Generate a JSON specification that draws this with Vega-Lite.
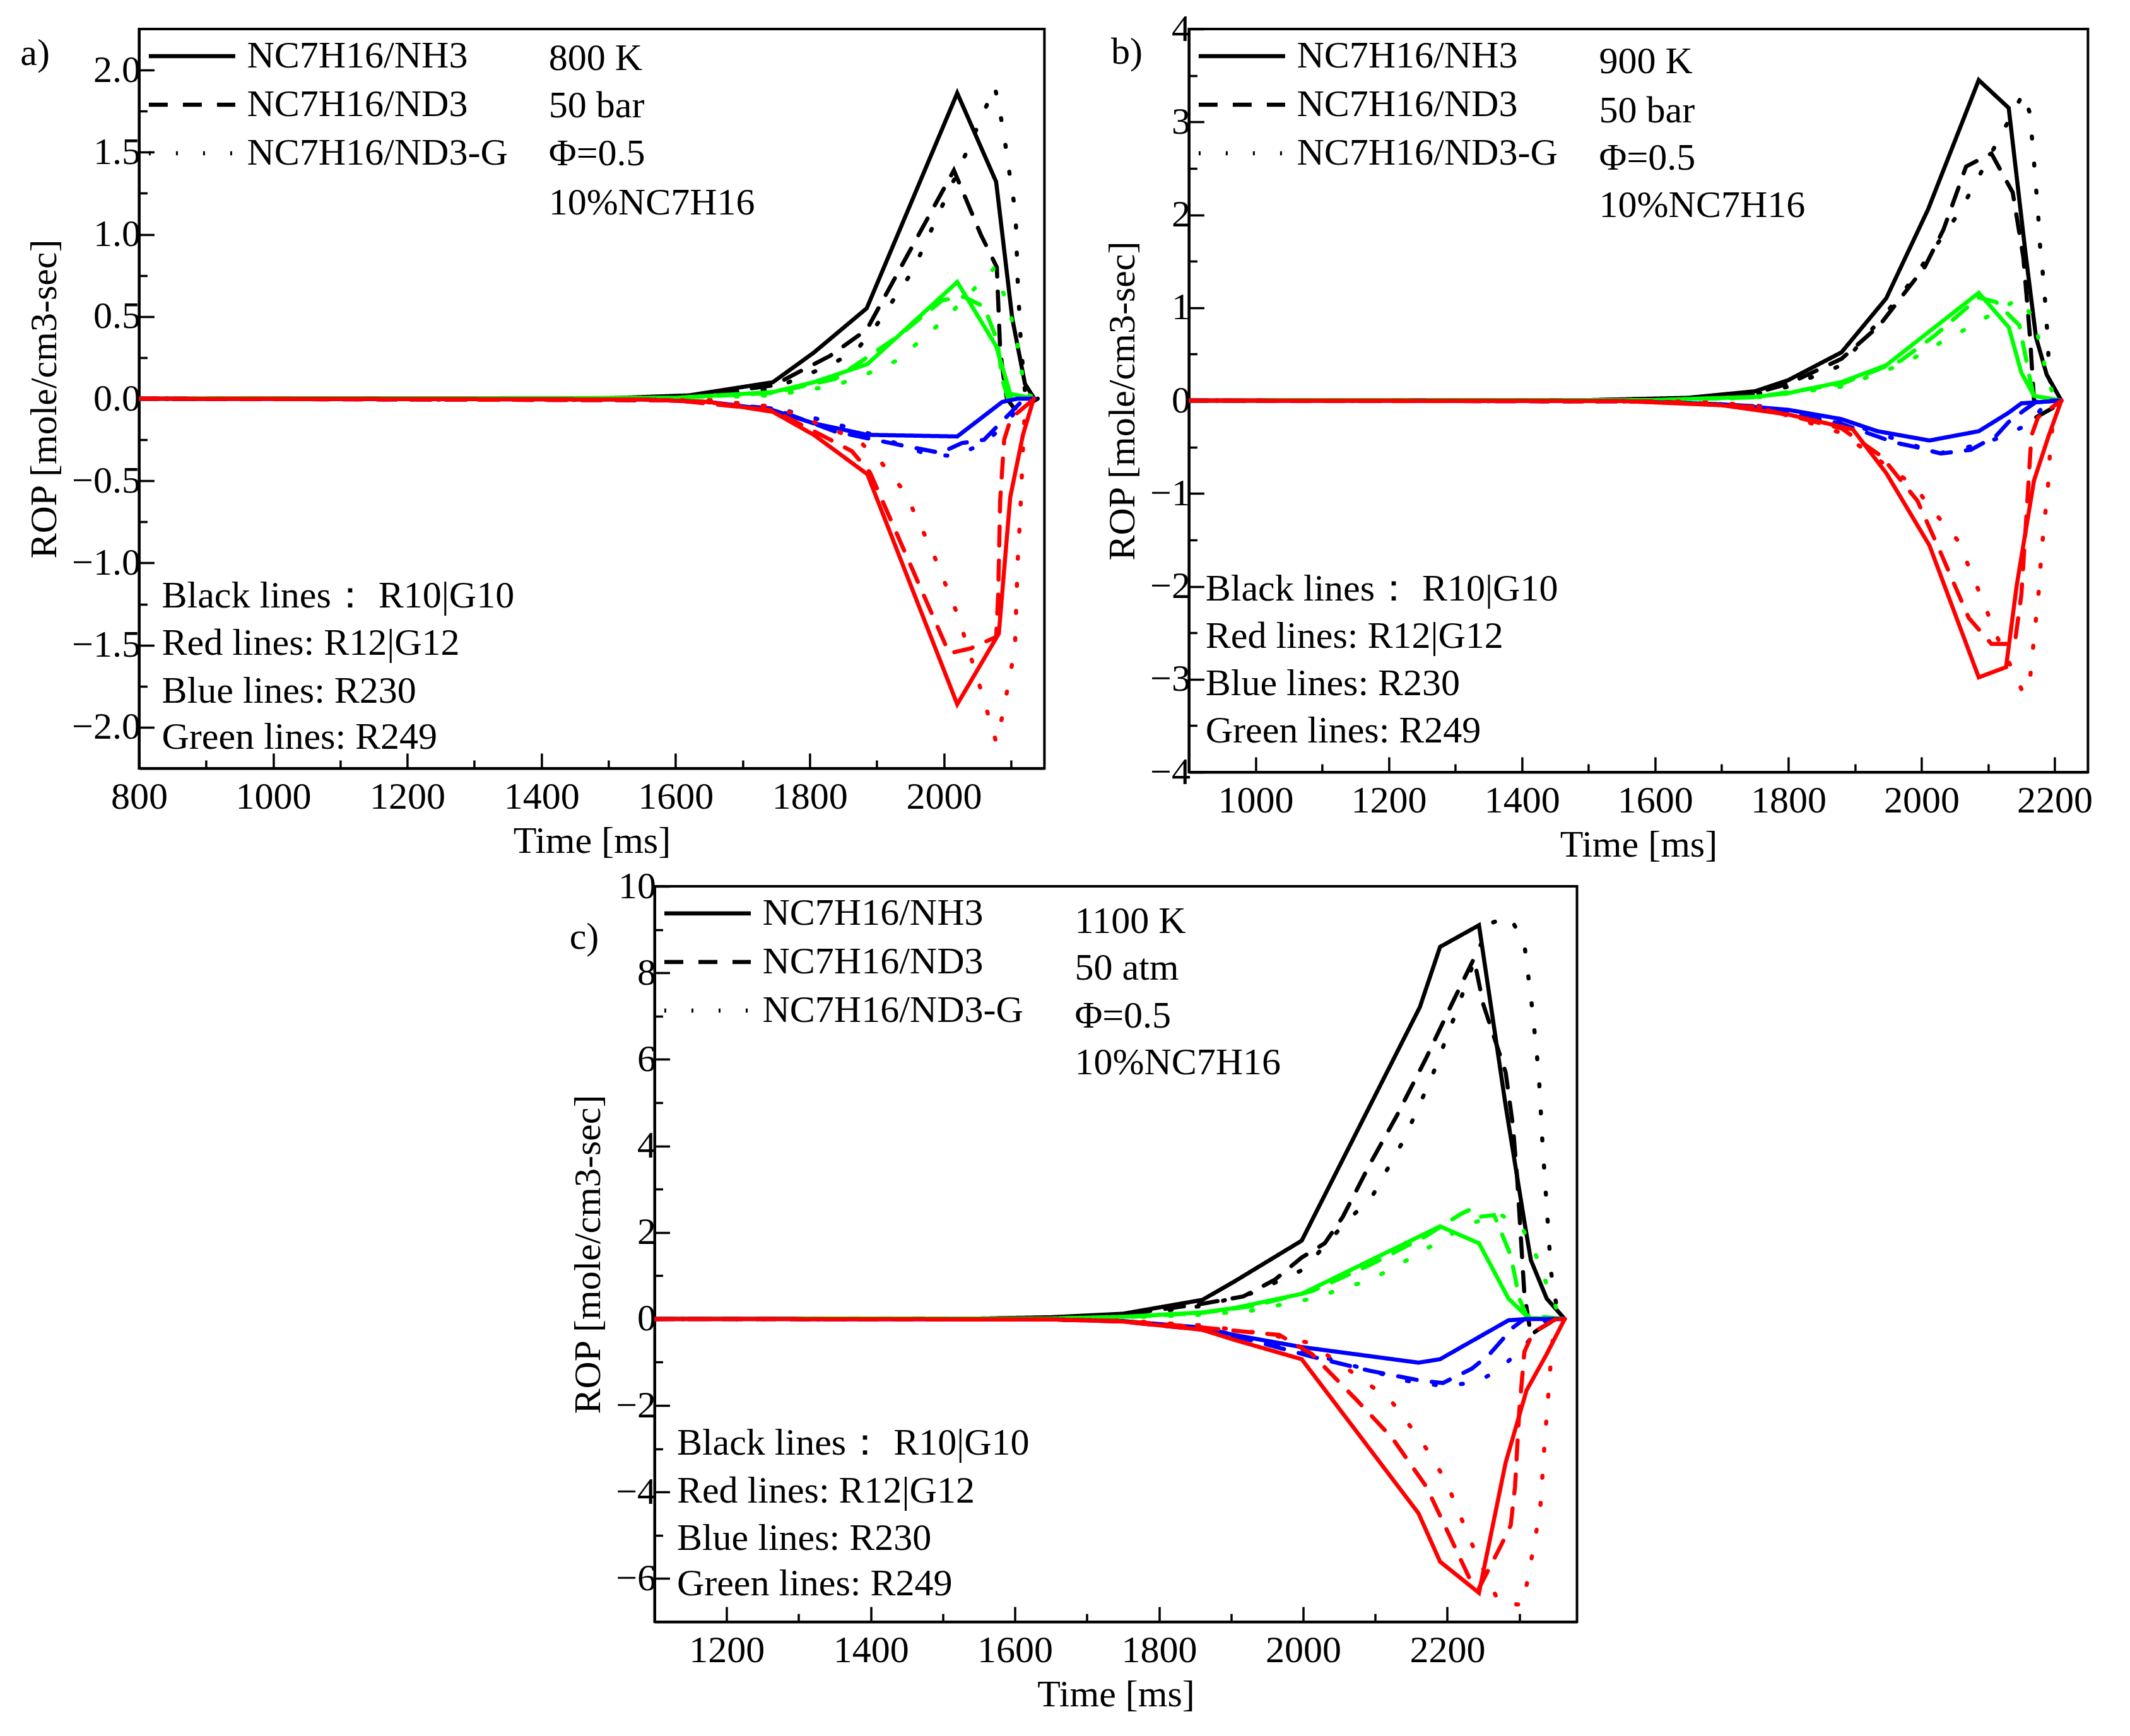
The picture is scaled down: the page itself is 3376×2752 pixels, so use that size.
{
  "$schema": "https://vega.github.io/schema/vega-lite/v6.json",
  "background": "white",
  "padding": {"left": 30, "top": 14, "right": 5, "bottom": 2},
  "datasets": {
    "lines": [
      {"p":"a","c":"black","s":"NC7H16/NH3","t":800,"v":0},{"p":"a","c":"black","s":"NC7H16/NH3","t":1500,"v":0.003},{"p":"a","c":"black","s":"NC7H16/NH3","t":1620,"v":0.02},{"p":"a","c":"black","s":"NC7H16/NH3","t":1745,"v":0.1},{"p":"a","c":"black","s":"NC7H16/NH3","t":1806,"v":0.28},{"p":"a","c":"black","s":"NC7H16/NH3","t":1885,"v":0.55},{"p":"a","c":"black","s":"NC7H16/NH3","t":2020,"v":1.86},{"p":"a","c":"black","s":"NC7H16/NH3","t":2078,"v":1.32},{"p":"a","c":"black","s":"NC7H16/NH3","t":2102,"v":0.49},{"p":"a","c":"black","s":"NC7H16/NH3","t":2121,"v":0.09},{"p":"a","c":"black","s":"NC7H16/NH3","t":2135,"v":0},
      {"p":"a","c":"black","s":"NC7H16/ND3","t":800,"v":0},{"p":"a","c":"black","s":"NC7H16/ND3","t":1500,"v":0.002},{"p":"a","c":"black","s":"NC7H16/ND3","t":1620,"v":0.015},{"p":"a","c":"black","s":"NC7H16/ND3","t":1745,"v":0.08},{"p":"a","c":"black","s":"NC7H16/ND3","t":1830,"v":0.26},{"p":"a","c":"black","s":"NC7H16/ND3","t":1885,"v":0.42},{"p":"a","c":"black","s":"NC7H16/ND3","t":2015,"v":1.39},{"p":"a","c":"black","s":"NC7H16/ND3","t":2055,"v":1.0},{"p":"a","c":"black","s":"NC7H16/ND3","t":2079,"v":0.8},{"p":"a","c":"black","s":"NC7H16/ND3","t":2084,"v":0.3},{"p":"a","c":"black","s":"NC7H16/ND3","t":2090,"v":0.1},{"p":"a","c":"black","s":"NC7H16/ND3","t":2094,"v":0},{"p":"a","c":"black","s":"NC7H16/ND3","t":2105,"v":-0.06},{"p":"a","c":"black","s":"NC7H16/ND3","t":2124,"v":-0.04},{"p":"a","c":"black","s":"NC7H16/ND3","t":2140,"v":0},
      {"p":"a","c":"black","s":"NC7H16/ND3-G","t":800,"v":0},{"p":"a","c":"black","s":"NC7H16/ND3-G","t":1500,"v":0.002},{"p":"a","c":"black","s":"NC7H16/ND3-G","t":1620,"v":0.01},{"p":"a","c":"black","s":"NC7H16/ND3-G","t":1745,"v":0.06},{"p":"a","c":"black","s":"NC7H16/ND3-G","t":1828,"v":0.2},{"p":"a","c":"black","s":"NC7H16/ND3-G","t":1869,"v":0.29},{"p":"a","c":"black","s":"NC7H16/ND3-G","t":1900,"v":0.45},{"p":"a","c":"black","s":"NC7H16/ND3-G","t":1954,"v":0.78},{"p":"a","c":"black","s":"NC7H16/ND3-G","t":1995,"v":1.15},{"p":"a","c":"black","s":"NC7H16/ND3-G","t":2036,"v":1.52},{"p":"a","c":"black","s":"NC7H16/ND3-G","t":2076,"v":1.9},{"p":"a","c":"black","s":"NC7H16/ND3-G","t":2084,"v":1.74},{"p":"a","c":"black","s":"NC7H16/ND3-G","t":2092,"v":1.54},{"p":"a","c":"black","s":"NC7H16/ND3-G","t":2099,"v":1.34},{"p":"a","c":"black","s":"NC7H16/ND3-G","t":2107,"v":1.13},{"p":"a","c":"black","s":"NC7H16/ND3-G","t":2110,"v":0.73},{"p":"a","c":"black","s":"NC7H16/ND3-G","t":2115,"v":0.33},{"p":"a","c":"black","s":"NC7H16/ND3-G","t":2121,"v":0.04},{"p":"a","c":"black","s":"NC7H16/ND3-G","t":2140,"v":0},
      {"p":"a","c":"green","s":"NC7H16/NH3","t":800,"v":0},{"p":"a","c":"green","s":"NC7H16/NH3","t":1600,"v":0.005},{"p":"a","c":"green","s":"NC7H16/NH3","t":1745,"v":0.04},{"p":"a","c":"green","s":"NC7H16/NH3","t":1806,"v":0.1},{"p":"a","c":"green","s":"NC7H16/NH3","t":1886,"v":0.21},{"p":"a","c":"green","s":"NC7H16/NH3","t":2020,"v":0.71},{"p":"a","c":"green","s":"NC7H16/NH3","t":2078,"v":0.32},{"p":"a","c":"green","s":"NC7H16/NH3","t":2099,"v":0.03},{"p":"a","c":"green","s":"NC7H16/NH3","t":2135,"v":0},
      {"p":"a","c":"green","s":"NC7H16/ND3","t":800,"v":0},{"p":"a","c":"green","s":"NC7H16/ND3","t":1600,"v":0.004},{"p":"a","c":"green","s":"NC7H16/ND3","t":1745,"v":0.035},{"p":"a","c":"green","s":"NC7H16/ND3","t":1838,"v":0.12},{"p":"a","c":"green","s":"NC7H16/ND3","t":1932,"v":0.38},{"p":"a","c":"green","s":"NC7H16/ND3","t":1998,"v":0.6},{"p":"a","c":"green","s":"NC7H16/ND3","t":2030,"v":0.62},{"p":"a","c":"green","s":"NC7H16/ND3","t":2060,"v":0.56},{"p":"a","c":"green","s":"NC7H16/ND3","t":2080,"v":0.35},{"p":"a","c":"green","s":"NC7H16/ND3","t":2087,"v":0.12},{"p":"a","c":"green","s":"NC7H16/ND3","t":2095,"v":0.01},{"p":"a","c":"green","s":"NC7H16/ND3","t":2135,"v":0},
      {"p":"a","c":"green","s":"NC7H16/ND3-G","t":800,"v":0},{"p":"a","c":"green","s":"NC7H16/ND3-G","t":1600,"v":0.003},{"p":"a","c":"green","s":"NC7H16/ND3-G","t":1745,"v":0.02},{"p":"a","c":"green","s":"NC7H16/ND3-G","t":1838,"v":0.08},{"p":"a","c":"green","s":"NC7H16/ND3-G","t":1885,"v":0.15},{"p":"a","c":"green","s":"NC7H16/ND3-G","t":1929,"v":0.23},{"p":"a","c":"green","s":"NC7H16/ND3-G","t":1967,"v":0.36},{"p":"a","c":"green","s":"NC7H16/ND3-G","t":2003,"v":0.49},{"p":"a","c":"green","s":"NC7H16/ND3-G","t":2074,"v":0.79},{"p":"a","c":"green","s":"NC7H16/ND3-G","t":2093,"v":0.6},{"p":"a","c":"green","s":"NC7H16/ND3-G","t":2107,"v":0.4},{"p":"a","c":"green","s":"NC7H16/ND3-G","t":2115,"v":0.2},{"p":"a","c":"green","s":"NC7H16/ND3-G","t":2121,"v":0.03},{"p":"a","c":"green","s":"NC7H16/ND3-G","t":2140,"v":0},
      {"p":"a","c":"blue","s":"NC7H16/NH3","t":800,"v":0},{"p":"a","c":"blue","s":"NC7H16/NH3","t":1550,"v":-0.005},{"p":"a","c":"blue","s":"NC7H16/NH3","t":1650,"v":-0.02},{"p":"a","c":"blue","s":"NC7H16/NH3","t":1745,"v":-0.07},{"p":"a","c":"blue","s":"NC7H16/NH3","t":1806,"v":-0.15},{"p":"a","c":"blue","s":"NC7H16/NH3","t":1886,"v":-0.22},{"p":"a","c":"blue","s":"NC7H16/NH3","t":2020,"v":-0.23},{"p":"a","c":"blue","s":"NC7H16/NH3","t":2087,"v":-0.02},{"p":"a","c":"blue","s":"NC7H16/NH3","t":2110,"v":0},{"p":"a","c":"blue","s":"NC7H16/NH3","t":2135,"v":0},
      {"p":"a","c":"blue","s":"NC7H16/ND3","t":800,"v":0},{"p":"a","c":"blue","s":"NC7H16/ND3","t":1600,"v":-0.01},{"p":"a","c":"blue","s":"NC7H16/ND3","t":1745,"v":-0.06},{"p":"a","c":"blue","s":"NC7H16/ND3","t":1838,"v":-0.2},{"p":"a","c":"blue","s":"NC7H16/ND3","t":1932,"v":-0.28},{"p":"a","c":"blue","s":"NC7H16/ND3","t":1995,"v":-0.33},{"p":"a","c":"blue","s":"NC7H16/ND3","t":2027,"v":-0.27},{"p":"a","c":"blue","s":"NC7H16/ND3","t":2060,"v":-0.25},{"p":"a","c":"blue","s":"NC7H16/ND3","t":2096,"v":-0.1},{"p":"a","c":"blue","s":"NC7H16/ND3","t":2120,"v":0},{"p":"a","c":"blue","s":"NC7H16/ND3","t":2135,"v":0},
      {"p":"a","c":"blue","s":"NC7H16/ND3-G","t":800,"v":0},{"p":"a","c":"blue","s":"NC7H16/ND3-G","t":1600,"v":-0.008},{"p":"a","c":"blue","s":"NC7H16/ND3-G","t":1745,"v":-0.05},{"p":"a","c":"blue","s":"NC7H16/ND3-G","t":1880,"v":-0.2},{"p":"a","c":"blue","s":"NC7H16/ND3-G","t":1976,"v":-0.34},{"p":"a","c":"blue","s":"NC7H16/ND3-G","t":2020,"v":-0.35},{"p":"a","c":"blue","s":"NC7H16/ND3-G","t":2067,"v":-0.25},{"p":"a","c":"blue","s":"NC7H16/ND3-G","t":2099,"v":-0.12},{"p":"a","c":"blue","s":"NC7H16/ND3-G","t":2120,"v":0},{"p":"a","c":"blue","s":"NC7H16/ND3-G","t":2135,"v":0},
      {"p":"a","c":"red","s":"NC7H16/NH3","t":800,"v":0},{"p":"a","c":"red","s":"NC7H16/NH3","t":1550,"v":-0.005},{"p":"a","c":"red","s":"NC7H16/NH3","t":1650,"v":-0.02},{"p":"a","c":"red","s":"NC7H16/NH3","t":1745,"v":-0.08},{"p":"a","c":"red","s":"NC7H16/NH3","t":1806,"v":-0.22},{"p":"a","c":"red","s":"NC7H16/NH3","t":1886,"v":-0.46},{"p":"a","c":"red","s":"NC7H16/NH3","t":2020,"v":-1.86},{"p":"a","c":"red","s":"NC7H16/NH3","t":2082,"v":-1.43},{"p":"a","c":"red","s":"NC7H16/NH3","t":2099,"v":-0.6},{"p":"a","c":"red","s":"NC7H16/NH3","t":2118,"v":-0.22},{"p":"a","c":"red","s":"NC7H16/NH3","t":2134,"v":0},
      {"p":"a","c":"red","s":"NC7H16/ND3","t":800,"v":0},{"p":"a","c":"red","s":"NC7H16/ND3","t":1600,"v":-0.01},{"p":"a","c":"red","s":"NC7H16/ND3","t":1745,"v":-0.07},{"p":"a","c":"red","s":"NC7H16/ND3","t":1831,"v":-0.25},{"p":"a","c":"red","s":"NC7H16/ND3","t":1863,"v":-0.32},{"p":"a","c":"red","s":"NC7H16/ND3","t":1890,"v":-0.45},{"p":"a","c":"red","s":"NC7H16/ND3","t":2008,"v":-1.55},{"p":"a","c":"red","s":"NC7H16/ND3","t":2040,"v":-1.52},{"p":"a","c":"red","s":"NC7H16/ND3","t":2078,"v":-1.45},{"p":"a","c":"red","s":"NC7H16/ND3","t":2081,"v":-1.2},{"p":"a","c":"red","s":"NC7H16/ND3","t":2084,"v":-0.62},{"p":"a","c":"red","s":"NC7H16/ND3","t":2090,"v":-0.25},{"p":"a","c":"red","s":"NC7H16/ND3","t":2100,"v":-0.12},{"p":"a","c":"red","s":"NC7H16/ND3","t":2135,"v":0},
      {"p":"a","c":"red","s":"NC7H16/ND3-G","t":800,"v":0},{"p":"a","c":"red","s":"NC7H16/ND3-G","t":1650,"v":-0.01},{"p":"a","c":"red","s":"NC7H16/ND3-G","t":1750,"v":-0.05},{"p":"a","c":"red","s":"NC7H16/ND3-G","t":1872,"v":-0.25},{"p":"a","c":"red","s":"NC7H16/ND3-G","t":1907,"v":-0.39},{"p":"a","c":"red","s":"NC7H16/ND3-G","t":1942,"v":-0.57},{"p":"a","c":"red","s":"NC7H16/ND3-G","t":1983,"v":-0.93},{"p":"a","c":"red","s":"NC7H16/ND3-G","t":2020,"v":-1.31},{"p":"a","c":"red","s":"NC7H16/ND3-G","t":2050,"v":-1.7},{"p":"a","c":"red","s":"NC7H16/ND3-G","t":2078,"v":-2.09},{"p":"a","c":"red","s":"NC7H16/ND3-G","t":2088,"v":-1.92},{"p":"a","c":"red","s":"NC7H16/ND3-G","t":2097,"v":-1.72},{"p":"a","c":"red","s":"NC7H16/ND3-G","t":2106,"v":-1.52},{"p":"a","c":"red","s":"NC7H16/ND3-G","t":2110,"v":-1.0},{"p":"a","c":"red","s":"NC7H16/ND3-G","t":2114,"v":-0.7},{"p":"a","c":"red","s":"NC7H16/ND3-G","t":2118,"v":-0.3},{"p":"a","c":"red","s":"NC7H16/ND3-G","t":2121,"v":-0.06},{"p":"a","c":"red","s":"NC7H16/ND3-G","t":2130,"v":0},

      {"p":"b","c":"black","s":"NC7H16/NH3","t":900,"v":0},{"p":"b","c":"black","s":"NC7H16/NH3","t":1500,"v":0.005},{"p":"b","c":"black","s":"NC7H16/NH3","t":1650,"v":0.03},{"p":"b","c":"black","s":"NC7H16/NH3","t":1750,"v":0.1},{"p":"b","c":"black","s":"NC7H16/NH3","t":1800,"v":0.22},{"p":"b","c":"black","s":"NC7H16/NH3","t":1880,"v":0.52},{"p":"b","c":"black","s":"NC7H16/NH3","t":1947,"v":1.1},{"p":"b","c":"black","s":"NC7H16/NH3","t":2010,"v":2.06},{"p":"b","c":"black","s":"NC7H16/NH3","t":2086,"v":3.45},{"p":"b","c":"black","s":"NC7H16/NH3","t":2131,"v":3.15},{"p":"b","c":"black","s":"NC7H16/NH3","t":2156,"v":1.6},{"p":"b","c":"black","s":"NC7H16/NH3","t":2172,"v":0.68},{"p":"b","c":"black","s":"NC7H16/NH3","t":2188,"v":0.28},{"p":"b","c":"black","s":"NC7H16/NH3","t":2210,"v":0},
      {"p":"b","c":"black","s":"NC7H16/ND3","t":900,"v":0},{"p":"b","c":"black","s":"NC7H16/ND3","t":1500,"v":0.004},{"p":"b","c":"black","s":"NC7H16/ND3","t":1650,"v":0.025},{"p":"b","c":"black","s":"NC7H16/ND3","t":1750,"v":0.08},{"p":"b","c":"black","s":"NC7H16/ND3","t":1800,"v":0.18},{"p":"b","c":"black","s":"NC7H16/ND3","t":1880,"v":0.45},{"p":"b","c":"black","s":"NC7H16/ND3","t":1937,"v":0.81},{"p":"b","c":"black","s":"NC7H16/ND3","t":2005,"v":1.44},{"p":"b","c":"black","s":"NC7H16/ND3","t":2033,"v":1.84},{"p":"b","c":"black","s":"NC7H16/ND3","t":2067,"v":2.52},{"p":"b","c":"black","s":"NC7H16/ND3","t":2105,"v":2.66},{"p":"b","c":"black","s":"NC7H16/ND3","t":2137,"v":2.24},{"p":"b","c":"black","s":"NC7H16/ND3","t":2153,"v":1.54},{"p":"b","c":"black","s":"NC7H16/ND3","t":2163,"v":0.68},{"p":"b","c":"black","s":"NC7H16/ND3","t":2169,"v":0},{"p":"b","c":"black","s":"NC7H16/ND3","t":2172,"v":-0.18},{"p":"b","c":"black","s":"NC7H16/ND3","t":2197,"v":-0.08},{"p":"b","c":"black","s":"NC7H16/ND3","t":2210,"v":0},
      {"p":"b","c":"black","s":"NC7H16/ND3-G","t":900,"v":0},{"p":"b","c":"black","s":"NC7H16/ND3-G","t":1500,"v":0.003},{"p":"b","c":"black","s":"NC7H16/ND3-G","t":1650,"v":0.02},{"p":"b","c":"black","s":"NC7H16/ND3-G","t":1750,"v":0.07},{"p":"b","c":"black","s":"NC7H16/ND3-G","t":1800,"v":0.15},{"p":"b","c":"black","s":"NC7H16/ND3-G","t":1880,"v":0.38},{"p":"b","c":"black","s":"NC7H16/ND3-G","t":1972,"v":1.16},{"p":"b","c":"black","s":"NC7H16/ND3-G","t":2029,"v":1.74},{"p":"b","c":"black","s":"NC7H16/ND3-G","t":2058,"v":2.04},{"p":"b","c":"black","s":"NC7H16/ND3-G","t":2083,"v":2.37},{"p":"b","c":"black","s":"NC7H16/ND3-G","t":2153,"v":3.31},{"p":"b","c":"black","s":"NC7H16/ND3-G","t":2162,"v":3.11},{"p":"b","c":"black","s":"NC7H16/ND3-G","t":2167,"v":2.75},{"p":"b","c":"black","s":"NC7H16/ND3-G","t":2171,"v":2.38},{"p":"b","c":"black","s":"NC7H16/ND3-G","t":2175,"v":2.03},{"p":"b","c":"black","s":"NC7H16/ND3-G","t":2178,"v":1.67},{"p":"b","c":"black","s":"NC7H16/ND3-G","t":2183,"v":1.31},{"p":"b","c":"black","s":"NC7H16/ND3-G","t":2187,"v":0.95},{"p":"b","c":"black","s":"NC7H16/ND3-G","t":2190,"v":0.59},{"p":"b","c":"black","s":"NC7H16/ND3-G","t":2192,"v":0.23},{"p":"b","c":"black","s":"NC7H16/ND3-G","t":2200,"v":0.08},{"p":"b","c":"black","s":"NC7H16/ND3-G","t":2210,"v":0},
      {"p":"b","c":"green","s":"NC7H16/NH3","t":900,"v":0},{"p":"b","c":"green","s":"NC7H16/NH3","t":1600,"v":0.005},{"p":"b","c":"green","s":"NC7H16/NH3","t":1750,"v":0.04},{"p":"b","c":"green","s":"NC7H16/NH3","t":1800,"v":0.08},{"p":"b","c":"green","s":"NC7H16/NH3","t":1880,"v":0.2},{"p":"b","c":"green","s":"NC7H16/NH3","t":1947,"v":0.38},{"p":"b","c":"green","s":"NC7H16/NH3","t":2086,"v":1.16},{"p":"b","c":"green","s":"NC7H16/NH3","t":2131,"v":0.79},{"p":"b","c":"green","s":"NC7H16/NH3","t":2150,"v":0.3},{"p":"b","c":"green","s":"NC7H16/NH3","t":2169,"v":0.05},{"p":"b","c":"green","s":"NC7H16/NH3","t":2210,"v":0},
      {"p":"b","c":"green","s":"NC7H16/ND3","t":900,"v":0},{"p":"b","c":"green","s":"NC7H16/ND3","t":1600,"v":0.004},{"p":"b","c":"green","s":"NC7H16/ND3","t":1750,"v":0.035},{"p":"b","c":"green","s":"NC7H16/ND3","t":1880,"v":0.18},{"p":"b","c":"green","s":"NC7H16/ND3","t":1969,"v":0.43},{"p":"b","c":"green","s":"NC7H16/ND3","t":2020,"v":0.7},{"p":"b","c":"green","s":"NC7H16/ND3","t":2086,"v":1.11},{"p":"b","c":"green","s":"NC7H16/ND3","t":2112,"v":1.06},{"p":"b","c":"green","s":"NC7H16/ND3","t":2147,"v":0.81},{"p":"b","c":"green","s":"NC7H16/ND3","t":2163,"v":0.23},{"p":"b","c":"green","s":"NC7H16/ND3","t":2169,"v":0.03},{"p":"b","c":"green","s":"NC7H16/ND3","t":2210,"v":0},
      {"p":"b","c":"green","s":"NC7H16/ND3-G","t":900,"v":0},{"p":"b","c":"green","s":"NC7H16/ND3-G","t":1600,"v":0.003},{"p":"b","c":"green","s":"NC7H16/ND3-G","t":1750,"v":0.03},{"p":"b","c":"green","s":"NC7H16/ND3-G","t":1880,"v":0.15},{"p":"b","c":"green","s":"NC7H16/ND3-G","t":1975,"v":0.4},{"p":"b","c":"green","s":"NC7H16/ND3-G","t":2020,"v":0.59},{"p":"b","c":"green","s":"NC7H16/ND3-G","t":2064,"v":0.76},{"p":"b","c":"green","s":"NC7H16/ND3-G","t":2147,"v":1.1},{"p":"b","c":"green","s":"NC7H16/ND3-G","t":2169,"v":0.88},{"p":"b","c":"green","s":"NC7H16/ND3-G","t":2180,"v":0.53},{"p":"b","c":"green","s":"NC7H16/ND3-G","t":2191,"v":0.2},{"p":"b","c":"green","s":"NC7H16/ND3-G","t":2200,"v":0.02},{"p":"b","c":"green","s":"NC7H16/ND3-G","t":2210,"v":0},
      {"p":"b","c":"blue","s":"NC7H16/NH3","t":900,"v":0},{"p":"b","c":"blue","s":"NC7H16/NH3","t":1550,"v":-0.005},{"p":"b","c":"blue","s":"NC7H16/NH3","t":1700,"v":-0.04},{"p":"b","c":"blue","s":"NC7H16/NH3","t":1800,"v":-0.1},{"p":"b","c":"blue","s":"NC7H16/NH3","t":1880,"v":-0.2},{"p":"b","c":"blue","s":"NC7H16/NH3","t":1934,"v":-0.33},{"p":"b","c":"blue","s":"NC7H16/NH3","t":2012,"v":-0.43},{"p":"b","c":"blue","s":"NC7H16/NH3","t":2086,"v":-0.33},{"p":"b","c":"blue","s":"NC7H16/NH3","t":2131,"v":-0.13},{"p":"b","c":"blue","s":"NC7H16/NH3","t":2150,"v":-0.03},{"p":"b","c":"blue","s":"NC7H16/NH3","t":2210,"v":0},
      {"p":"b","c":"blue","s":"NC7H16/ND3","t":900,"v":0},{"p":"b","c":"blue","s":"NC7H16/ND3","t":1600,"v":-0.01},{"p":"b","c":"blue","s":"NC7H16/ND3","t":1750,"v":-0.06},{"p":"b","c":"blue","s":"NC7H16/ND3","t":1880,"v":-0.25},{"p":"b","c":"blue","s":"NC7H16/ND3","t":1959,"v":-0.45},{"p":"b","c":"blue","s":"NC7H16/ND3","t":1991,"v":-0.5},{"p":"b","c":"blue","s":"NC7H16/ND3","t":2029,"v":-0.57},{"p":"b","c":"blue","s":"NC7H16/ND3","t":2074,"v":-0.53},{"p":"b","c":"blue","s":"NC7H16/ND3","t":2112,"v":-0.38},{"p":"b","c":"blue","s":"NC7H16/ND3","t":2131,"v":-0.23},{"p":"b","c":"blue","s":"NC7H16/ND3","t":2155,"v":-0.1},{"p":"b","c":"blue","s":"NC7H16/ND3","t":2175,"v":0},{"p":"b","c":"blue","s":"NC7H16/ND3","t":2210,"v":0},
      {"p":"b","c":"blue","s":"NC7H16/ND3-G","t":900,"v":0},{"p":"b","c":"blue","s":"NC7H16/ND3-G","t":1600,"v":-0.008},{"p":"b","c":"blue","s":"NC7H16/ND3-G","t":1750,"v":-0.05},{"p":"b","c":"blue","s":"NC7H16/ND3-G","t":1880,"v":-0.22},{"p":"b","c":"blue","s":"NC7H16/ND3-G","t":2026,"v":-0.57},{"p":"b","c":"blue","s":"NC7H16/ND3-G","t":2070,"v":-0.5},{"p":"b","c":"blue","s":"NC7H16/ND3-G","t":2118,"v":-0.4},{"p":"b","c":"blue","s":"NC7H16/ND3-G","t":2162,"v":-0.25},{"p":"b","c":"blue","s":"NC7H16/ND3-G","t":2190,"v":0},{"p":"b","c":"blue","s":"NC7H16/ND3-G","t":2210,"v":0},
      {"p":"b","c":"red","s":"NC7H16/NH3","t":900,"v":0},{"p":"b","c":"red","s":"NC7H16/NH3","t":1550,"v":-0.005},{"p":"b","c":"red","s":"NC7H16/NH3","t":1700,"v":-0.05},{"p":"b","c":"red","s":"NC7H16/NH3","t":1800,"v":-0.15},{"p":"b","c":"red","s":"NC7H16/NH3","t":1897,"v":-0.31},{"p":"b","c":"red","s":"NC7H16/NH3","t":1947,"v":-0.78},{"p":"b","c":"red","s":"NC7H16/NH3","t":2012,"v":-1.56},{"p":"b","c":"red","s":"NC7H16/NH3","t":2086,"v":-2.98},{"p":"b","c":"red","s":"NC7H16/NH3","t":2127,"v":-2.87},{"p":"b","c":"red","s":"NC7H16/NH3","t":2143,"v":-1.99},{"p":"b","c":"red","s":"NC7H16/NH3","t":2169,"v":-0.86},{"p":"b","c":"red","s":"NC7H16/NH3","t":2191,"v":-0.38},{"p":"b","c":"red","s":"NC7H16/NH3","t":2210,"v":0},
      {"p":"b","c":"red","s":"NC7H16/ND3","t":900,"v":0},{"p":"b","c":"red","s":"NC7H16/ND3","t":1600,"v":-0.01},{"p":"b","c":"red","s":"NC7H16/ND3","t":1750,"v":-0.07},{"p":"b","c":"red","s":"NC7H16/ND3","t":1880,"v":-0.3},{"p":"b","c":"red","s":"NC7H16/ND3","t":1940,"v":-0.6},{"p":"b","c":"red","s":"NC7H16/ND3","t":1994,"v":-1.08},{"p":"b","c":"red","s":"NC7H16/ND3","t":2029,"v":-1.64},{"p":"b","c":"red","s":"NC7H16/ND3","t":2071,"v":-2.34},{"p":"b","c":"red","s":"NC7H16/ND3","t":2105,"v":-2.62},{"p":"b","c":"red","s":"NC7H16/ND3","t":2140,"v":-2.62},{"p":"b","c":"red","s":"NC7H16/ND3","t":2150,"v":-2.09},{"p":"b","c":"red","s":"NC7H16/ND3","t":2159,"v":-1.08},{"p":"b","c":"red","s":"NC7H16/ND3","t":2165,"v":-0.38},{"p":"b","c":"red","s":"NC7H16/ND3","t":2175,"v":-0.18},{"p":"b","c":"red","s":"NC7H16/ND3","t":2210,"v":0},
      {"p":"b","c":"red","s":"NC7H16/ND3-G","t":900,"v":0},{"p":"b","c":"red","s":"NC7H16/ND3-G","t":1650,"v":-0.01},{"p":"b","c":"red","s":"NC7H16/ND3-G","t":1750,"v":-0.05},{"p":"b","c":"red","s":"NC7H16/ND3-G","t":1880,"v":-0.35},{"p":"b","c":"red","s":"NC7H16/ND3-G","t":1988,"v":-0.91},{"p":"b","c":"red","s":"NC7H16/ND3-G","t":2020,"v":-1.21},{"p":"b","c":"red","s":"NC7H16/ND3-G","t":2055,"v":-1.51},{"p":"b","c":"red","s":"NC7H16/ND3-G","t":2093,"v":-2.17},{"p":"b","c":"red","s":"NC7H16/ND3-G","t":2112,"v":-2.52},{"p":"b","c":"red","s":"NC7H16/ND3-G","t":2153,"v":-3.15},{"p":"b","c":"red","s":"NC7H16/ND3-G","t":2162,"v":-3.07},{"p":"b","c":"red","s":"NC7H16/ND3-G","t":2167,"v":-2.7},{"p":"b","c":"red","s":"NC7H16/ND3-G","t":2172,"v":-2.34},{"p":"b","c":"red","s":"NC7H16/ND3-G","t":2177,"v":-1.99},{"p":"b","c":"red","s":"NC7H16/ND3-G","t":2180,"v":-1.64},{"p":"b","c":"red","s":"NC7H16/ND3-G","t":2185,"v":-1.28},{"p":"b","c":"red","s":"NC7H16/ND3-G","t":2190,"v":-0.92},{"p":"b","c":"red","s":"NC7H16/ND3-G","t":2193,"v":-0.55},{"p":"b","c":"red","s":"NC7H16/ND3-G","t":2198,"v":-0.18},{"p":"b","c":"red","s":"NC7H16/ND3-G","t":2210,"v":0},

      {"p":"c","c":"black","s":"NC7H16/NH3","t":1100,"v":0},{"p":"c","c":"black","s":"NC7H16/NH3","t":1550,"v":0.01},{"p":"c","c":"black","s":"NC7H16/NH3","t":1650,"v":0.04},{"p":"c","c":"black","s":"NC7H16/NH3","t":1750,"v":0.12},{"p":"c","c":"black","s":"NC7H16/NH3","t":1860,"v":0.44},{"p":"c","c":"black","s":"NC7H16/NH3","t":1904,"v":0.86},{"p":"c","c":"black","s":"NC7H16/NH3","t":1998,"v":1.81},{"p":"c","c":"black","s":"NC7H16/NH3","t":2162,"v":7.21},{"p":"c","c":"black","s":"NC7H16/NH3","t":2190,"v":8.6},{"p":"c","c":"black","s":"NC7H16/NH3","t":2244,"v":9.1},{"p":"c","c":"black","s":"NC7H16/NH3","t":2281,"v":4.93},{"p":"c","c":"black","s":"NC7H16/NH3","t":2307,"v":2.25},{"p":"c","c":"black","s":"NC7H16/NH3","t":2316,"v":1.36},{"p":"c","c":"black","s":"NC7H16/NH3","t":2338,"v":0.47},{"p":"c","c":"black","s":"NC7H16/NH3","t":2363,"v":0},
      {"p":"c","c":"black","s":"NC7H16/ND3","t":1100,"v":0},{"p":"c","c":"black","s":"NC7H16/ND3","t":1550,"v":0.008},{"p":"c","c":"black","s":"NC7H16/ND3","t":1650,"v":0.03},{"p":"c","c":"black","s":"NC7H16/ND3","t":1750,"v":0.1},{"p":"c","c":"black","s":"NC7H16/ND3","t":1860,"v":0.35},{"p":"c","c":"black","s":"NC7H16/ND3","t":1917,"v":0.52},{"p":"c","c":"black","s":"NC7H16/ND3","t":1961,"v":0.91},{"p":"c","c":"black","s":"NC7H16/ND3","t":1998,"v":1.42},{"p":"c","c":"black","s":"NC7H16/ND3","t":2030,"v":1.75},{"p":"c","c":"black","s":"NC7H16/ND3","t":2055,"v":2.36},{"p":"c","c":"black","s":"NC7H16/ND3","t":2093,"v":3.59},{"p":"c","c":"black","s":"NC7H16/ND3","t":2130,"v":4.7},{"p":"c","c":"black","s":"NC7H16/ND3","t":2171,"v":6.04},{"p":"c","c":"black","s":"NC7H16/ND3","t":2206,"v":7.27},{"p":"c","c":"black","s":"NC7H16/ND3","t":2237,"v":8.33},{"p":"c","c":"black","s":"NC7H16/ND3","t":2250,"v":7.27},{"p":"c","c":"black","s":"NC7H16/ND3","t":2281,"v":5.7},{"p":"c","c":"black","s":"NC7H16/ND3","t":2291,"v":4.48},{"p":"c","c":"black","s":"NC7H16/ND3","t":2297,"v":3.25},{"p":"c","c":"black","s":"NC7H16/ND3","t":2307,"v":0.58},{"p":"c","c":"black","s":"NC7H16/ND3","t":2316,"v":-0.37},{"p":"c","c":"black","s":"NC7H16/ND3","t":2325,"v":-0.26},{"p":"c","c":"black","s":"NC7H16/ND3","t":2351,"v":0},{"p":"c","c":"black","s":"NC7H16/ND3","t":2363,"v":0},
      {"p":"c","c":"black","s":"NC7H16/ND3-G","t":1100,"v":0},{"p":"c","c":"black","s":"NC7H16/ND3-G","t":1550,"v":0.005},{"p":"c","c":"black","s":"NC7H16/ND3-G","t":1650,"v":0.02},{"p":"c","c":"black","s":"NC7H16/ND3-G","t":1750,"v":0.08},{"p":"c","c":"black","s":"NC7H16/ND3-G","t":1860,"v":0.3},{"p":"c","c":"black","s":"NC7H16/ND3-G","t":1930,"v":0.6},{"p":"c","c":"black","s":"NC7H16/ND3-G","t":2000,"v":1.14},{"p":"c","c":"black","s":"NC7H16/ND3-G","t":2060,"v":2.25},{"p":"c","c":"black","s":"NC7H16/ND3-G","t":2095,"v":2.81},{"p":"c","c":"black","s":"NC7H16/ND3-G","t":2140,"v":4.15},{"p":"c","c":"black","s":"NC7H16/ND3-G","t":2178,"v":5.57},{"p":"c","c":"black","s":"NC7H16/ND3-G","t":2210,"v":6.99},{"p":"c","c":"black","s":"NC7H16/ND3-G","t":2241,"v":8.44},{"p":"c","c":"black","s":"NC7H16/ND3-G","t":2259,"v":9.14},{"p":"c","c":"black","s":"NC7H16/ND3-G","t":2287,"v":9.3},{"p":"c","c":"black","s":"NC7H16/ND3-G","t":2307,"v":8.66},{"p":"c","c":"black","s":"NC7H16/ND3-G","t":2318,"v":7.16},{"p":"c","c":"black","s":"NC7H16/ND3-G","t":2327,"v":5.65},{"p":"c","c":"black","s":"NC7H16/ND3-G","t":2332,"v":4.09},{"p":"c","c":"black","s":"NC7H16/ND3-G","t":2338,"v":2.59},{"p":"c","c":"black","s":"NC7H16/ND3-G","t":2344,"v":1.08},{"p":"c","c":"black","s":"NC7H16/ND3-G","t":2351,"v":0.36},{"p":"c","c":"black","s":"NC7H16/ND3-G","t":2363,"v":0},
      {"p":"c","c":"green","s":"NC7H16/NH3","t":1100,"v":0},{"p":"c","c":"green","s":"NC7H16/NH3","t":1650,"v":0.01},{"p":"c","c":"green","s":"NC7H16/NH3","t":1750,"v":0.05},{"p":"c","c":"green","s":"NC7H16/NH3","t":1860,"v":0.15},{"p":"c","c":"green","s":"NC7H16/NH3","t":1904,"v":0.25},{"p":"c","c":"green","s":"NC7H16/NH3","t":1998,"v":0.58},{"p":"c","c":"green","s":"NC7H16/NH3","t":2190,"v":2.14},{"p":"c","c":"green","s":"NC7H16/NH3","t":2244,"v":1.75},{"p":"c","c":"green","s":"NC7H16/NH3","t":2285,"v":0.47},{"p":"c","c":"green","s":"NC7H16/NH3","t":2313,"v":0.02},{"p":"c","c":"green","s":"NC7H16/NH3","t":2363,"v":0},
      {"p":"c","c":"green","s":"NC7H16/ND3","t":1100,"v":0},{"p":"c","c":"green","s":"NC7H16/ND3","t":1650,"v":0.01},{"p":"c","c":"green","s":"NC7H16/ND3","t":1750,"v":0.04},{"p":"c","c":"green","s":"NC7H16/ND3","t":1860,"v":0.14},{"p":"c","c":"green","s":"NC7H16/ND3","t":1930,"v":0.3},{"p":"c","c":"green","s":"NC7H16/ND3","t":2012,"v":0.64},{"p":"c","c":"green","s":"NC7H16/ND3","t":2093,"v":1.25},{"p":"c","c":"green","s":"NC7H16/ND3","t":2171,"v":1.92},{"p":"c","c":"green","s":"NC7H16/ND3","t":2218,"v":2.42},{"p":"c","c":"green","s":"NC7H16/ND3","t":2232,"v":2.53},{"p":"c","c":"green","s":"NC7H16/ND3","t":2244,"v":2.36},{"p":"c","c":"green","s":"NC7H16/ND3","t":2265,"v":2.4},{"p":"c","c":"green","s":"NC7H16/ND3","t":2288,"v":1.47},{"p":"c","c":"green","s":"NC7H16/ND3","t":2300,"v":0.47},{"p":"c","c":"green","s":"NC7H16/ND3","t":2310,"v":0.08},{"p":"c","c":"green","s":"NC7H16/ND3","t":2363,"v":0},
      {"p":"c","c":"green","s":"NC7H16/ND3-G","t":1100,"v":0},{"p":"c","c":"green","s":"NC7H16/ND3-G","t":1650,"v":0.008},{"p":"c","c":"green","s":"NC7H16/ND3-G","t":1750,"v":0.03},{"p":"c","c":"green","s":"NC7H16/ND3-G","t":1860,"v":0.1},{"p":"c","c":"green","s":"NC7H16/ND3-G","t":1928,"v":0.19},{"p":"c","c":"green","s":"NC7H16/ND3-G","t":2012,"v":0.47},{"p":"c","c":"green","s":"NC7H16/ND3-G","t":2094,"v":0.91},{"p":"c","c":"green","s":"NC7H16/ND3-G","t":2138,"v":1.3},{"p":"c","c":"green","s":"NC7H16/ND3-G","t":2173,"v":1.64},{"p":"c","c":"green","s":"NC7H16/ND3-G","t":2230,"v":2.2},{"p":"c","c":"green","s":"NC7H16/ND3-G","t":2275,"v":2.4},{"p":"c","c":"green","s":"NC7H16/ND3-G","t":2303,"v":2.14},{"p":"c","c":"green","s":"NC7H16/ND3-G","t":2325,"v":1.4},{"p":"c","c":"green","s":"NC7H16/ND3-G","t":2340,"v":0.7},{"p":"c","c":"green","s":"NC7H16/ND3-G","t":2355,"v":0.1},{"p":"c","c":"green","s":"NC7H16/ND3-G","t":2363,"v":0},
      {"p":"c","c":"blue","s":"NC7H16/NH3","t":1100,"v":0},{"p":"c","c":"blue","s":"NC7H16/NH3","t":1650,"v":-0.01},{"p":"c","c":"blue","s":"NC7H16/NH3","t":1750,"v":-0.05},{"p":"c","c":"blue","s":"NC7H16/NH3","t":1860,"v":-0.2},{"p":"c","c":"blue","s":"NC7H16/NH3","t":1904,"v":-0.37},{"p":"c","c":"blue","s":"NC7H16/NH3","t":1998,"v":-0.65},{"p":"c","c":"blue","s":"NC7H16/NH3","t":2160,"v":-1.01},{"p":"c","c":"blue","s":"NC7H16/NH3","t":2190,"v":-0.93},{"p":"c","c":"blue","s":"NC7H16/NH3","t":2285,"v":-0.03},{"p":"c","c":"blue","s":"NC7H16/NH3","t":2313,"v":0},{"p":"c","c":"blue","s":"NC7H16/NH3","t":2363,"v":0},
      {"p":"c","c":"blue","s":"NC7H16/ND3","t":1100,"v":0},{"p":"c","c":"blue","s":"NC7H16/ND3","t":1650,"v":-0.01},{"p":"c","c":"blue","s":"NC7H16/ND3","t":1750,"v":-0.06},{"p":"c","c":"blue","s":"NC7H16/ND3","t":1860,"v":-0.25},{"p":"c","c":"blue","s":"NC7H16/ND3","t":1930,"v":-0.5},{"p":"c","c":"blue","s":"NC7H16/ND3","t":2012,"v":-0.87},{"p":"c","c":"blue","s":"NC7H16/ND3","t":2093,"v":-1.2},{"p":"c","c":"blue","s":"NC7H16/ND3","t":2165,"v":-1.43},{"p":"c","c":"blue","s":"NC7H16/ND3","t":2194,"v":-1.48},{"p":"c","c":"blue","s":"NC7H16/ND3","t":2234,"v":-1.15},{"p":"c","c":"blue","s":"NC7H16/ND3","t":2259,"v":-0.81},{"p":"c","c":"blue","s":"NC7H16/ND3","t":2291,"v":-0.2},{"p":"c","c":"blue","s":"NC7H16/ND3","t":2307,"v":0},{"p":"c","c":"blue","s":"NC7H16/ND3","t":2363,"v":0},
      {"p":"c","c":"blue","s":"NC7H16/ND3-G","t":1100,"v":0},{"p":"c","c":"blue","s":"NC7H16/ND3-G","t":1650,"v":-0.01},{"p":"c","c":"blue","s":"NC7H16/ND3-G","t":1750,"v":-0.05},{"p":"c","c":"blue","s":"NC7H16/ND3-G","t":1860,"v":-0.2},{"p":"c","c":"blue","s":"NC7H16/ND3-G","t":2000,"v":-0.75},{"p":"c","c":"blue","s":"NC7H16/ND3-G","t":2143,"v":-1.43},{"p":"c","c":"blue","s":"NC7H16/ND3-G","t":2190,"v":-1.54},{"p":"c","c":"blue","s":"NC7H16/ND3-G","t":2237,"v":-1.48},{"p":"c","c":"blue","s":"NC7H16/ND3-G","t":2270,"v":-1.2},{"p":"c","c":"blue","s":"NC7H16/ND3-G","t":2306,"v":-0.65},{"p":"c","c":"blue","s":"NC7H16/ND3-G","t":2338,"v":0},{"p":"c","c":"blue","s":"NC7H16/ND3-G","t":2363,"v":0},
      {"p":"c","c":"red","s":"NC7H16/NH3","t":1100,"v":0},{"p":"c","c":"red","s":"NC7H16/NH3","t":1650,"v":-0.01},{"p":"c","c":"red","s":"NC7H16/NH3","t":1750,"v":-0.06},{"p":"c","c":"red","s":"NC7H16/NH3","t":1860,"v":-0.25},{"p":"c","c":"red","s":"NC7H16/NH3","t":1904,"v":-0.48},{"p":"c","c":"red","s":"NC7H16/NH3","t":1998,"v":-0.93},{"p":"c","c":"red","s":"NC7H16/NH3","t":2160,"v":-4.49},{"p":"c","c":"red","s":"NC7H16/NH3","t":2190,"v":-5.61},{"p":"c","c":"red","s":"NC7H16/NH3","t":2244,"v":-6.33},{"p":"c","c":"red","s":"NC7H16/NH3","t":2281,"v":-3.32},{"p":"c","c":"red","s":"NC7H16/NH3","t":2310,"v":-1.65},{"p":"c","c":"red","s":"NC7H16/NH3","t":2338,"v":-0.81},{"p":"c","c":"red","s":"NC7H16/NH3","t":2363,"v":0},
      {"p":"c","c":"red","s":"NC7H16/ND3","t":1100,"v":0},{"p":"c","c":"red","s":"NC7H16/ND3","t":1650,"v":-0.01},{"p":"c","c":"red","s":"NC7H16/ND3","t":1750,"v":-0.05},{"p":"c","c":"red","s":"NC7H16/ND3","t":1860,"v":-0.2},{"p":"c","c":"red","s":"NC7H16/ND3","t":1967,"v":-0.37},{"p":"c","c":"red","s":"NC7H16/ND3","t":2012,"v":-0.81},{"p":"c","c":"red","s":"NC7H16/ND3","t":2074,"v":-1.87},{"p":"c","c":"red","s":"NC7H16/ND3","t":2124,"v":-2.76},{"p":"c","c":"red","s":"NC7H16/ND3","t":2171,"v":-3.88},{"p":"c","c":"red","s":"NC7H16/ND3","t":2206,"v":-5.11},{"p":"c","c":"red","s":"NC7H16/ND3","t":2231,"v":-6.0},{"p":"c","c":"red","s":"NC7H16/ND3","t":2244,"v":-6.22},{"p":"c","c":"red","s":"NC7H16/ND3","t":2275,"v":-5.22},{"p":"c","c":"red","s":"NC7H16/ND3","t":2288,"v":-4.77},{"p":"c","c":"red","s":"NC7H16/ND3","t":2294,"v":-3.88},{"p":"c","c":"red","s":"NC7H16/ND3","t":2300,"v":-2.1},{"p":"c","c":"red","s":"NC7H16/ND3","t":2307,"v":-0.76},{"p":"c","c":"red","s":"NC7H16/ND3","t":2319,"v":-0.31},{"p":"c","c":"red","s":"NC7H16/ND3","t":2351,"v":0},{"p":"c","c":"red","s":"NC7H16/ND3","t":2363,"v":0},
      {"p":"c","c":"red","s":"NC7H16/ND3-G","t":1100,"v":0},{"p":"c","c":"red","s":"NC7H16/ND3-G","t":1650,"v":-0.008},{"p":"c","c":"red","s":"NC7H16/ND3-G","t":1750,"v":-0.04},{"p":"c","c":"red","s":"NC7H16/ND3-G","t":1860,"v":-0.15},{"p":"c","c":"red","s":"NC7H16/ND3-G","t":1950,"v":-0.35},{"p":"c","c":"red","s":"NC7H16/ND3-G","t":2005,"v":-0.54},{"p":"c","c":"red","s":"NC7H16/ND3-G","t":2047,"v":-0.98},{"p":"c","c":"red","s":"NC7H16/ND3-G","t":2121,"v":-1.87},{"p":"c","c":"red","s":"NC7H16/ND3-G","t":2149,"v":-2.49},{"p":"c","c":"red","s":"NC7H16/ND3-G","t":2178,"v":-3.16},{"p":"c","c":"red","s":"NC7H16/ND3-G","t":2200,"v":-3.82},{"p":"c","c":"red","s":"NC7H16/ND3-G","t":2218,"v":-4.55},{"p":"c","c":"red","s":"NC7H16/ND3-G","t":2236,"v":-5.27},{"p":"c","c":"red","s":"NC7H16/ND3-G","t":2253,"v":-5.89},{"p":"c","c":"red","s":"NC7H16/ND3-G","t":2272,"v":-6.56},{"p":"c","c":"red","s":"NC7H16/ND3-G","t":2305,"v":-6.61},{"p":"c","c":"red","s":"NC7H16/ND3-G","t":2313,"v":-5.89},{"p":"c","c":"red","s":"NC7H16/ND3-G","t":2321,"v":-5.16},{"p":"c","c":"red","s":"NC7H16/ND3-G","t":2329,"v":-4.38},{"p":"c","c":"red","s":"NC7H16/ND3-G","t":2335,"v":-2.88},{"p":"c","c":"red","s":"NC7H16/ND3-G","t":2342,"v":-1.37},{"p":"c","c":"red","s":"NC7H16/ND3-G","t":2345,"v":-0.65},{"p":"c","c":"red","s":"NC7H16/ND3-G","t":2351,"v":0},{"p":"c","c":"red","s":"NC7H16/ND3-G","t":2363,"v":0}
    ],
    "notes": [
      {"p":"a","t":623,"v":2.1,"label":"a)"},
      {"p":"a","t":1411,"v":2.07,"label":"800 K"},
      {"p":"a","t":1411,"v":1.78,"label":"50 bar"},
      {"p":"a","t":1411,"v":1.49,"label":"Φ=0.5"},
      {"p":"a","t":1411,"v":1.19,"label":"10%NC7H16"},
      {"p":"a","t":834,"v":-1.2,"label":"Black lines： R10|G10"},
      {"p":"a","t":834,"v":-1.49,"label":"Red lines: R12|G12"},
      {"p":"a","t":834,"v":-1.78,"label":"Blue lines: R230"},
      {"p":"a","t":834,"v":-2.06,"label":"Green lines: R249"},
      {"p":"b","t":783,"v":3.75,"label":"b)"},
      {"p":"b","t":1516,"v":3.65,"label":"900 K"},
      {"p":"b","t":1516,"v":3.12,"label":"50 bar"},
      {"p":"b","t":1516,"v":2.61,"label":"Φ=0.5"},
      {"p":"b","t":1516,"v":2.1,"label":"10%NC7H16"},
      {"p":"b","t":925,"v":-2.03,"label":"Black lines： R10|G10"},
      {"p":"b","t":925,"v":-2.54,"label":"Red lines: R12|G12"},
      {"p":"b","t":925,"v":-3.05,"label":"Blue lines: R230"},
      {"p":"b","t":925,"v":-3.56,"label":"Green lines: R249"},
      {"p":"c","t":982,"v":8.82,"label":"c)"},
      {"p":"c","t":1683,"v":9.19,"label":"1100 K"},
      {"p":"c","t":1683,"v":8.1,"label":"50 atm"},
      {"p":"c","t":1683,"v":7.0,"label":"Φ=0.5"},
      {"p":"c","t":1683,"v":5.92,"label":"10%NC7H16"},
      {"p":"c","t":1131,"v":-2.88,"label":"Black lines： R10|G10"},
      {"p":"c","t":1131,"v":-3.98,"label":"Red lines: R12|G12"},
      {"p":"c","t":1131,"v":-5.07,"label":"Blue lines: R230"},
      {"p":"c","t":1131,"v":-6.12,"label":"Green lines: R249"}
    ]
  },
  "vconcat": [
    {
      "hconcat": [
        {
          "width": 1435,
          "height": 1172,
          "layer": [
            {
              "data": {"name": "lines"},
              "transform": [{"filter": "datum.p === 'a'"}],
              "mark": {"type": "line", "strokeWidth": 6.5, "strokeCap": "round", "clip": true},
              "encoding": {
                "x": {"field": "t", "type": "quantitative", "title": "Time [ms]",
                  "scale": {"domain": [800, 2150], "nice": false, "zero": false},
                  "axis": {"values": [800, 900, 1000, 1100, 1200, 1300, 1400, 1500, 1600, 1700, 1800, 1900, 2000, 2100],
                    "format": "d", "labelPadding": 40, "titlePadding": 0,
                    "labelExpr": "datum.value % 200 === 0 ? datum.label : ''",
                    "tickSize": {"condition": {"test": "datum.value % 200 === 0", "value": -24}, "value": -13}}},
                "y": {"field": "v", "type": "quantitative", "title": "ROP [mole/cm3-sec]",
                  "scale": {"domain": [-2.25, 2.25], "nice": false, "zero": false},
                  "axis": {"values": [-2, -1.75, -1.5, -1.25, -1, -0.75, -0.5, -0.25, 0, 0.25, 0.5, 0.75, 1, 1.25, 1.5, 1.75, 2],
                    "format": ".1f",
                    "labelExpr": "abs(datum.value * 2 - round(datum.value * 2)) < 0.001 ? datum.label : ''",
                    "tickSize": {"condition": {"test": "abs(datum.value * 2 - round(datum.value * 2)) < 0.001", "value": -24}, "value": -13}}},
                "color": {"field": "c", "type": "nominal", "legend": null,
                  "scale": {"domain": ["black", "red", "blue", "green"], "range": ["#000000", "#ff0000", "#0000ff", "#00ff00"]}},
                "strokeDash": {"field": "s", "type": "nominal",
                  "scale": {"domain": ["NC7H16/NH3", "NC7H16/ND3", "NC7H16/ND3-G"], "range": [[1, 0], [30, 24], [3, 40]]}}
              }
            },
            {
              "data": {"name": "notes"},
              "transform": [{"filter": "datum.p === 'a'"}],
              "mark": {"type": "text", "align": "left", "baseline": "middle", "font": "Liberation Serif", "fontSize": 60, "color": "black"},
              "encoding": {
                "x": {"field": "t", "type": "quantitative"},
                "y": {"field": "v", "type": "quantitative"},
                "text": {"field": "label"}
              }
            }
          ]
        },
        {
          "width": 1425,
          "height": 1178,
          "layer": [
            {
              "data": {"name": "lines"},
              "transform": [{"filter": "datum.p === 'b'"}],
              "mark": {"type": "line", "strokeWidth": 6.5, "strokeCap": "round", "clip": true},
              "encoding": {
                "x": {"field": "t", "type": "quantitative", "title": "Time [ms]",
                  "scale": {"domain": [900, 2250], "nice": false, "zero": false},
                  "axis": {"values": [1000, 1100, 1200, 1300, 1400, 1500, 1600, 1700, 1800, 1900, 2000, 2100, 2200],
                    "format": "d", "labelPadding": 40, "titlePadding": 0,
                    "labelExpr": "datum.value % 200 === 0 ? datum.label : ''",
                    "tickSize": {"condition": {"test": "datum.value % 200 === 0", "value": -24}, "value": -13}}},
                "y": {"field": "v", "type": "quantitative", "title": "ROP [mole/cm3-sec]",
                  "scale": {"domain": [-4, 4], "nice": false, "zero": false},
                  "axis": {"values": [-4, -3.5, -3, -2.5, -2, -1.5, -1, -0.5, 0, 0.5, 1, 1.5, 2, 2.5, 3, 3.5, 4],
                    "format": ".0f",
                    "labelExpr": "datum.value % 1 === 0 ? datum.label : ''",
                    "tickSize": {"condition": {"test": "datum.value % 1 === 0", "value": -24}, "value": -13}}},
                "color": {"field": "c", "type": "nominal", "legend": null,
                  "scale": {"domain": ["black", "red", "blue", "green"], "range": ["#000000", "#ff0000", "#0000ff", "#00ff00"]}},
                "strokeDash": {"field": "s", "type": "nominal",
                  "scale": {"domain": ["NC7H16/NH3", "NC7H16/ND3", "NC7H16/ND3-G"], "range": [[1, 0], [30, 24], [3, 40]]}}
              }
            },
            {
              "data": {"name": "notes"},
              "transform": [{"filter": "datum.p === 'b'"}],
              "mark": {"type": "text", "align": "left", "baseline": "middle", "font": "Liberation Serif", "fontSize": 60, "color": "black"},
              "encoding": {
                "x": {"field": "t", "type": "quantitative"},
                "y": {"field": "v", "type": "quantitative"},
                "text": {"field": "label"}
              }
            }
          ]
        }
      ],
      "spacing": 90,
      "resolve": {"scale": {"color": "independent", "strokeDash": "independent"}, "legend": {"strokeDash": "independent"}}
    },
    {
      "width": 1462,
      "height": 1166,
      "layer": [
        {
          "data": {"name": "lines"},
          "transform": [{"filter": "datum.p === 'c'"}],
          "mark": {"type": "line", "strokeWidth": 6.5, "strokeCap": "round", "clip": true},
          "encoding": {
            "x": {"field": "t", "type": "quantitative", "title": "Time [ms]",
              "scale": {"domain": [1100, 2380], "nice": false, "zero": false},
              "axis": {"values": [1200, 1300, 1400, 1500, 1600, 1700, 1800, 1900, 2000, 2100, 2200, 2300],
                "format": "d", "labelPadding": 40, "titlePadding": 0,
                "labelExpr": "datum.value % 200 === 0 ? datum.label : ''",
                "tickSize": {"condition": {"test": "datum.value % 200 === 0", "value": -24}, "value": -13}}},
            "y": {"field": "v", "type": "quantitative", "title": "ROP [mole/cm3-sec]",
              "scale": {"domain": [-7, 10], "nice": false, "zero": false},
              "axis": {"values": [-6, -5, -4, -3, -2, -1, 0, 1, 2, 3, 4, 5, 6, 7, 8, 9, 10],
                "format": ".0f",
                "labelExpr": "datum.value % 2 === 0 ? datum.label : ''",
                "tickSize": {"condition": {"test": "datum.value % 2 === 0", "value": -24}, "value": -13}}},
            "color": {"field": "c", "type": "nominal", "legend": null,
              "scale": {"domain": ["black", "red", "blue", "green"], "range": ["#000000", "#ff0000", "#0000ff", "#00ff00"]}},
            "strokeDash": {"field": "s", "type": "nominal",
              "scale": {"domain": ["NC7H16/NH3", "NC7H16/ND3", "NC7H16/ND3-G"], "range": [[1, 0], [30, 24], [3, 40]]}}
          }
        },
        {
          "data": {"name": "notes"},
          "transform": [{"filter": "datum.p === 'c'"}],
          "mark": {"type": "text", "align": "left", "baseline": "middle", "font": "Liberation Serif", "fontSize": 60, "color": "black"},
          "encoding": {
            "x": {"field": "t", "type": "quantitative"},
            "y": {"field": "v", "type": "quantitative"},
            "text": {"field": "label"}
          }
        }
      ]
    }
  ],
  "spacing": 2,
  "center": true,
  "resolve": {"scale": {"color": "independent", "strokeDash": "independent"}, "legend": {"strokeDash": "independent"}},
  "config": {
    "view": {"stroke": "black", "strokeWidth": 4},
    "axis": {
      "grid": false,
      "labelFont": "Liberation Serif",
      "labelFontSize": 60,
      "labelColor": "black",
      "titleFont": "Liberation Serif",
      "titleFontSize": 60,
      "titleFontWeight": "normal",
      "titleColor": "black",
      "domainColor": "black",
      "domainWidth": 4,
      "tickColor": "black",
      "tickWidth": 3.5,
      "labelPadding": 22,
      "titlePadding": 12,
      "labelFlush": false,
      "labelOverlap": false
    },
    "legend": {
      "orient": "top-left",
      "offset": 8,
      "padding": 4,
      "title": null,
      "symbolType": "stroke",
      "symbolSize": 18769,
      "symbolStrokeWidth": 6.5,
      "symbolStrokeColor": "black",
      "labelFont": "Liberation Serif",
      "labelFontSize": 60,
      "labelColor": "black",
      "labelLimit": 0,
      "labelOffset": 15,
      "clipHeight": 62,
      "rowPadding": 15
    }
  }
}
